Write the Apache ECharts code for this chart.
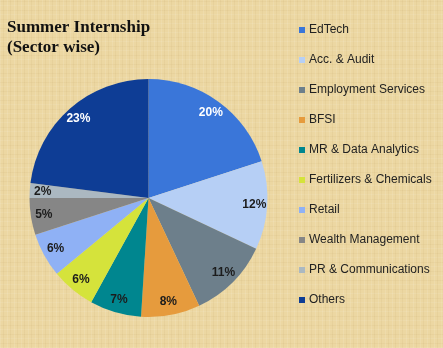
<!DOCTYPE html>
<html>
<head>
<meta charset="utf-8">
<script src="https://cdn.jsdelivr.net/npm/echarts@6/dist/echarts.min.js"></script>
<style>
  html, body { margin: 0; padding: 0; }
  body {
    width: 443px; height: 348px;
    background-color: #ecd7a2;
    background-image:
      repeating-linear-gradient(90deg, rgba(255,255,255,0.10) 0px, rgba(255,255,255,0.10) 1px, rgba(0,0,0,0) 1px, rgba(0,0,0,0) 3px, rgba(150,110,40,0.06) 3px, rgba(150,110,40,0.06) 4px, rgba(0,0,0,0) 4px, rgba(0,0,0,0) 7px),
      repeating-linear-gradient(0deg, rgba(255,255,255,0.08) 0px, rgba(255,255,255,0.08) 1px, rgba(0,0,0,0) 1px, rgba(0,0,0,0) 4px, rgba(150,110,40,0.05) 4px, rgba(150,110,40,0.05) 5px, rgba(0,0,0,0) 5px, rgba(0,0,0,0) 9px);
  }
  #chart { width: 443px; height: 348px; }
</style>
</head>
<body>
<div id="chart"></div>
<script>
// Sector-wise split of summer internship offers (percent)
const sectors = [
  'EdTech', 'Acc. & Audit', 'Employment Services', 'BFSI', 'MR & Data Analytics',
  'Fertilizers & Chemicals', 'Retail', 'Wealth Management', 'PR & Communications', 'Others'
];
const shares = [20, 12, 11, 8, 7, 6, 6, 5, 2, 23];
const sectorColors = [
  '#3a76d9', '#b6cff5', '#6d7f8b', '#e69b3d', '#00868f',
  '#d5e33b', '#8fb1f5', '#868686', '#abb8c1', '#0e3d95'
];
const lightText = ['EdTech', 'Others'];

const pieData = sectors.map((name, i) => ({
  name: name,
  value: shares[i],
  itemStyle: { color: sectorColors[i] }
}));

const labelData = sectors.map((name, i) => ({
  name: name,
  value: shares[i],
  label: { color: lightText.includes(name) ? '#ffffff' : '#1c1c1c' }
}));

const chart = echarts.init(document.getElementById('chart'), null, { renderer: 'canvas' });
chart.setOption({
  backgroundColor: 'transparent',
  animation: false,
  title: {
    text: 'Summer Internship\n(Sector wise)',
    left: 2,
    top: 13,
    textStyle: {
      fontFamily: 'Liberation Serif',
      fontWeight: 'bold',
      fontSize: 17,
      lineHeight: 20,
      color: '#111111'
    }
  },
  legend: {
    orient: 'vertical',
    left: 294,
    top: 18,
    icon: 'rect',
    itemWidth: 6,
    itemHeight: 6,
    itemGap: 16,
    data: sectors,
    textStyle: {
      fontFamily: 'Liberation Sans',
      fontSize: 12,
      lineHeight: 14,
      color: '#222222',
      padding: [0, 0, 0, -1]
    }
  },
  series: [
    {
      type: 'pie',
      center: [148.5, 198],
      radius: [0, 119],
      startAngle: 90,
      clockwise: true,
      silent: true,
      label: { show: false },
      labelLine: { show: false },
      itemStyle: { borderWidth: 0 },
      data: pieData
    },
    {
      // transparent ring that carries the percentage labels near the rim
      type: 'pie',
      center: [148.5, 198],
      radius: [87, 119],
      startAngle: 90,
      clockwise: true,
      silent: true,
      itemStyle: { color: 'rgba(0,0,0,0)', borderWidth: 0 },
      label: {
        show: true,
        position: 'inside',
        formatter: '{c}%',
        fontFamily: 'Liberation Sans',
        fontWeight: 'bold',
        fontSize: 12
      },
      labelLine: { show: false },
      data: labelData
    }
  ]
});
</script>
</body>
</html>
